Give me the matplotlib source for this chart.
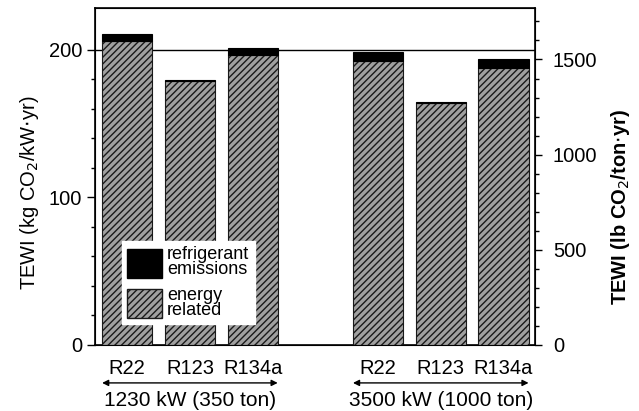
#!/usr/bin/env python3

# TEWI comparison of chillers, energy related vs refrigerant emissions.

import matplotlib
matplotlib.use('Agg')
import matplotlib.pyplot as plt
from matplotlib.patches import Patch

plt.rcParams['font.family'] = ['Liberation Sans', 'DejaVu Sans']
plt.rcParams['hatch.linewidth'] = 1.0

# Chart data (kg CO2 per kW-yr)
refrigerants = ['R22', 'R123', 'R134a']
groups = ['1230 kW (350 ton)', '3500 kW (1000 ton)']
energy_small = [206, 179, 196.5]
emission_small = [4.5, 0.8, 5.0]
energy_large = [192.5, 164, 188]
emission_large = [6.0, 0.8, 5.5]

# Conversion kg CO2/kW-yr -> lb CO2/ton-yr
kg_to_lb = 2.20462 * 3.51685

fig = plt.figure(figsize=(6.39, 4.11), dpi=100)
ax = fig.add_axes([0.149, 0.161, 0.688, 0.820])

width = 0.8
hatch_face = '#a0a0a0'

# Positions: one gap slot between the two groups
pos_small = [i for i in range(len(refrigerants))]
pos_large = [i + len(refrigerants) + 1 for i in range(len(refrigerants))]

for pos, energy, emis in [(pos_small, energy_small, emission_small),
                          (pos_large, energy_large, emission_large)]:
    ax.bar(pos, energy, width, color=hatch_face, edgecolor='#1a1a1a',
           hatch='/////', linewidth=0.8, zorder=3)
    ax.bar(pos, emis, width, bottom=energy, color='black',
           edgecolor='black', linewidth=0.8, zorder=3)

# Reference line at 200
ax.axhline(200, color='black', lw=1.0, zorder=1)

ax.set_xlim(-0.51, 6.5)
ax.set_ylim(0, 228.5)
ax.set_xticks(pos_small + pos_large)
ax.set_xticklabels(refrigerants + refrigerants, fontsize=14.5)
ax.tick_params(axis='x', length=0, pad=10)

ax.set_yticks([0, 100, 200])
ax.set_yticks(range(20, 220, 20), minor=True)
ax.tick_params(axis='y', which='major', labelsize=14.5, length=6, width=1.0)
ax.tick_params(axis='y', which='minor', length=3, width=1.0)
ax.set_ylabel('TEWI (kg CO$_2$/kW$\\cdot$yr)', fontsize=14.5)
ax.yaxis.set_label_coords(-0.123, 0.45)

for side in ['left', 'right', 'top', 'bottom']:
    ax.spines[side].set_linewidth(1.2)

# Secondary axis in lb/ton-yr
ax2 = ax.twinx()
ax2.set_ylim(0, 228.5 * kg_to_lb)
ax2.set_yticks([0, 500, 1000, 1500])
ax2.set_yticks(range(100, 1800, 100), minor=True)
ax2.tick_params(axis='y', which='major', labelsize=14.5, length=5, width=1.0, pad=8)
ax2.tick_params(axis='y', which='minor', length=3, width=1.0)
ax2.set_ylabel('TEWI (lb CO$_2$/ton$\\cdot$yr)', fontsize=14.5,
               fontweight='bold')
ax2.yaxis.set_label_coords(1.168, 0.41)

# Group arrows and labels below the axis
for pos, name in [(pos_small, groups[0]), (pos_large, groups[1])]:
    ax.annotate('', xy=(pos[0] - width / 2, -0.113),
                xytext=(pos[-1] + width / 2, -0.113),
                xycoords=('data', 'axes fraction'),
                textcoords=('data', 'axes fraction'),
                arrowprops=dict(arrowstyle='<|-|>', color='black', lw=1.0,
                                mutation_scale=9, shrinkA=0, shrinkB=0),
                annotation_clip=False)
    ax.text((pos[0] + pos[-1]) / 2, -0.165, name, fontsize=15,
            ha='center', va='center', transform=ax.get_xaxis_transform())

# Legend
handles = [Patch(facecolor='black', edgecolor='black', label='refrigerant\nemissions'),
           Patch(facecolor=hatch_face, edgecolor='#1a1a1a', hatch='/////',
                 label='energy\nrelated')]
leg = ax.legend(handles=handles, loc='lower left', bbox_to_anchor=(0.04, 0.035),
                fontsize=13, frameon=True, fancybox=False, edgecolor='white',
                framealpha=1.0, handlelength=1.9, handleheight=2.1,
                handletextpad=0.3, labelspacing=0.45, borderpad=0.3)
for txt in leg.get_texts():
    txt.set_linespacing(0.85)
leg.set_zorder(5)

plt.savefig('out.png', dpi=100)
plt.close(fig)
